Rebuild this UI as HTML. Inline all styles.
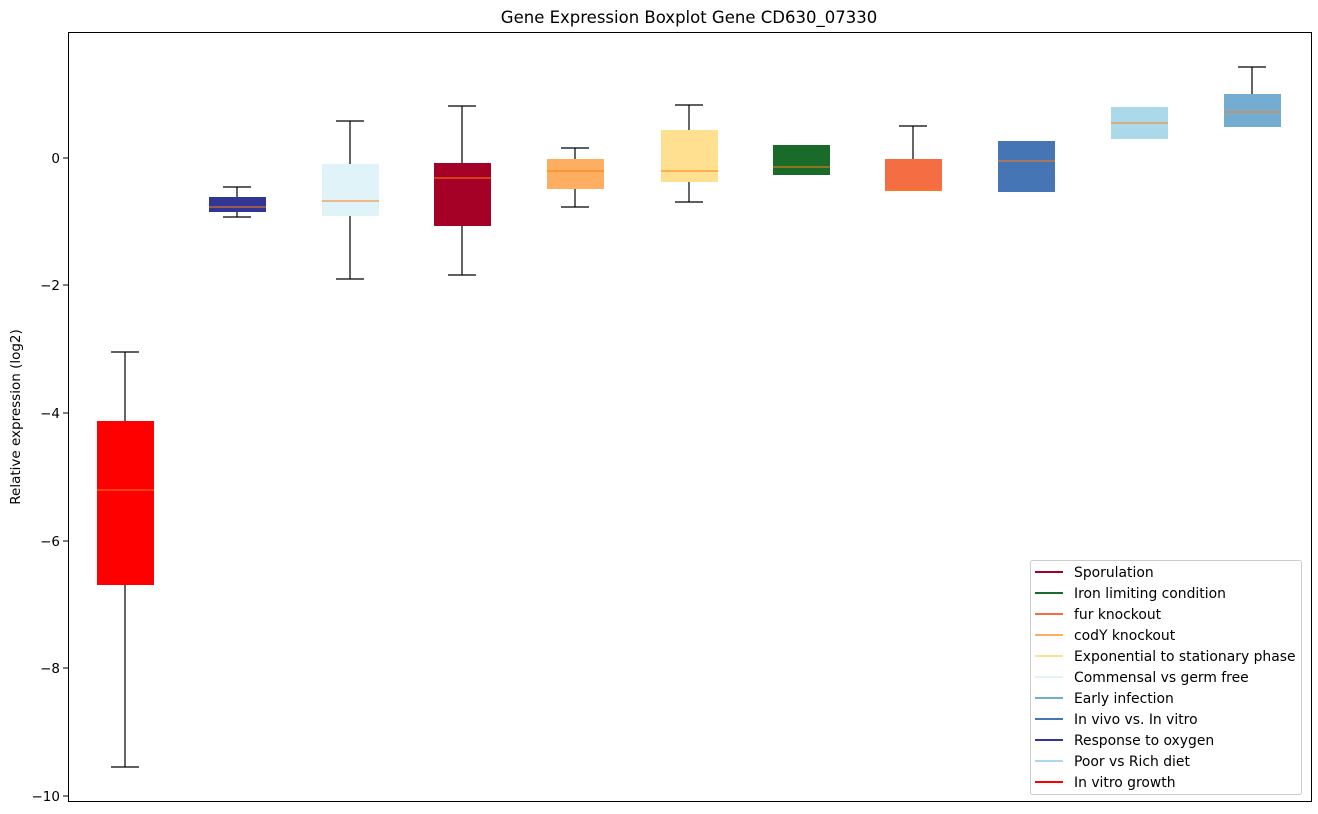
<!DOCTYPE html>
<html><head><meta charset="utf-8"><style>body{margin:0;background:#fff}svg{display:block}text{font-family:"DejaVu Sans","Liberation Sans",sans-serif}</style></head><body>
<svg width="1318" height="814" xmlns="http://www.w3.org/2000/svg">
<text x="689" y="23" font-size="16.5" text-anchor="middle">Gene Expression Boxplot Gene CD630_07330</text>
<g font-size="13.5" text-anchor="end">
<line x1="63" x2="68" y1="158" y2="158" stroke="#000"/><text x="60" y="163">0</text>
<line x1="63" x2="68" y1="285" y2="285" stroke="#000"/><text x="60" y="290">−2</text>
<line x1="63" x2="68" y1="413" y2="413" stroke="#000"/><text x="60" y="418">−4</text>
<line x1="63" x2="68" y1="541" y2="541" stroke="#000"/><text x="60" y="546">−6</text>
<line x1="63" x2="68" y1="668" y2="668" stroke="#000"/><text x="60" y="673">−8</text>
<line x1="63" x2="68" y1="796" y2="796" stroke="#000"/><text x="60" y="801">−10</text>
</g>
<text transform="translate(20,417) rotate(-90)" font-size="13.5" text-anchor="middle">Relative expression (log2)</text>
<g stroke="#000" stroke-width="1.2">
<line x1="125" x2="125" y1="352" y2="767"/><line x1="111" x2="139" y1="352" y2="352"/><line x1="111" x2="139" y1="767" y2="767"/>
<line x1="237" x2="237" y1="187" y2="217"/><line x1="223" x2="251" y1="187" y2="187"/><line x1="223" x2="251" y1="217" y2="217"/>
<line x1="350" x2="350" y1="121" y2="279"/><line x1="336" x2="364" y1="121" y2="121"/><line x1="336" x2="364" y1="279" y2="279"/>
<line x1="462" x2="462" y1="106" y2="275"/><line x1="448" x2="476" y1="106" y2="106"/><line x1="448" x2="476" y1="275" y2="275"/>
<line x1="575" x2="575" y1="148" y2="207"/><line x1="561" x2="589" y1="148" y2="148"/><line x1="561" x2="589" y1="207" y2="207"/>
<line x1="689" x2="689" y1="105" y2="202"/><line x1="675" x2="703" y1="105" y2="105"/><line x1="675" x2="703" y1="202" y2="202"/>
<line x1="913" x2="913" y1="126" y2="159"/><line x1="899" x2="927" y1="126" y2="126"/>
<line x1="1252" x2="1252" y1="67" y2="94"/><line x1="1238" x2="1266" y1="67" y2="67"/>
</g>
<rect x="97" y="421" width="57" height="164" fill="#ff0000"/><line x1="97" x2="154" y1="490" y2="490" stroke="#ff7f0e"/>
<rect x="209" y="197" width="57" height="15" fill="#313695"/><line x1="209" x2="266" y1="207" y2="207" stroke="#ff7f0e"/>
<rect x="322" y="164" width="57" height="52" fill="#e0f3f8"/><line x1="322" x2="379" y1="201" y2="201" stroke="#ff7f0e"/>
<rect x="434" y="163" width="57" height="63" fill="#a50026"/><line x1="434" x2="491" y1="178" y2="178" stroke="#ff7f0e"/>
<rect x="547" y="159" width="57" height="30" fill="#fdae61"/><line x1="547" x2="604" y1="171" y2="171" stroke="#ff7f0e"/>
<rect x="661" y="130" width="57" height="52" fill="#fee090"/><line x1="661" x2="718" y1="171" y2="171" stroke="#ff7f0e"/>
<rect x="773" y="145" width="57" height="30" fill="#1a6b2a"/><line x1="773" x2="830" y1="167" y2="167" stroke="#ff7f0e"/>
<rect x="885" y="159" width="57" height="32" fill="#f46d43"/><line x1="885" x2="942" y1="190" y2="190" stroke="#ff7f0e"/>
<rect x="998" y="141" width="57" height="51" fill="#4575b4"/><line x1="998" x2="1055" y1="161" y2="161" stroke="#ff7f0e"/>
<rect x="1111" y="107" width="57" height="32" fill="#abd9e9"/><line x1="1111" x2="1168" y1="123" y2="123" stroke="#ff7f0e"/>
<rect x="1224" y="94" width="57" height="33" fill="#74add1"/><line x1="1224" x2="1281" y1="112" y2="112" stroke="#ff7f0e"/>
<rect x="68.5" y="32.5" width="1243" height="769" fill="none" stroke="#000"/>
<rect x="1030.5" y="560.5" width="271" height="234" fill="#fff" stroke="#ccc" rx="2"/>
<g font-size="13.9" stroke-width="2">
<line x1="1035" x2="1063" y1="572" y2="572" stroke="#a50026"/><text x="1074" y="577">Sporulation</text>
<line x1="1035" x2="1063" y1="593" y2="593" stroke="#1a6b2a"/><text x="1074" y="598">Iron limiting condition</text>
<line x1="1035" x2="1063" y1="614" y2="614" stroke="#f46d43"/><text x="1074" y="619">fur knockout</text>
<line x1="1035" x2="1063" y1="635" y2="635" stroke="#fdae61"/><text x="1074" y="640">codY knockout</text>
<line x1="1035" x2="1063" y1="656" y2="656" stroke="#fee090"/><text x="1074" y="661">Exponential to stationary phase</text>
<line x1="1035" x2="1063" y1="677" y2="677" stroke="#e0f3f8"/><text x="1074" y="682">Commensal vs germ free</text>
<line x1="1035" x2="1063" y1="698" y2="698" stroke="#74add1"/><text x="1074" y="703">Early infection</text>
<line x1="1035" x2="1063" y1="719" y2="719" stroke="#4575b4"/><text x="1074" y="724">In vivo vs. In vitro</text>
<line x1="1035" x2="1063" y1="740" y2="740" stroke="#313695"/><text x="1074" y="745">Response to oxygen</text>
<line x1="1035" x2="1063" y1="761" y2="761" stroke="#abd9e9"/><text x="1074" y="766">Poor vs Rich diet</text>
<line x1="1035" x2="1063" y1="782" y2="782" stroke="#ff0000"/><text x="1074" y="787">In vitro growth</text>
</g>
</svg>
</body></html>
